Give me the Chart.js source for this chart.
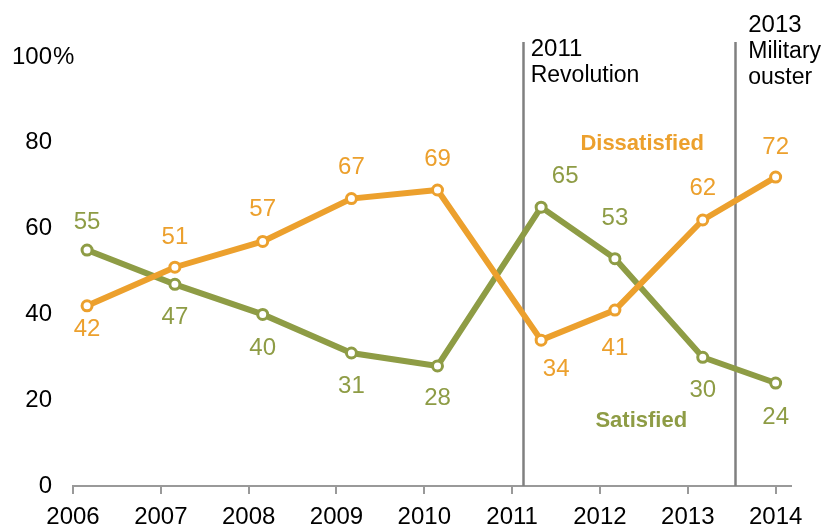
<!DOCTYPE html>
<html>
<head>
<meta charset="utf-8">
<script src="https://cdn.jsdelivr.net/npm/chart.js@4.4.0/dist/chart.umd.min.js"></script>
<style>
    html, body { margin: 0; padding: 0; background: #ffffff; }
    #satisfactionChart { display: block; }
</style>
</head>
<body>
<canvas id="satisfactionChart" width="830" height="527"></canvas>
<script>
// survey dates (fractional years) and the two series
var surveyDates = [2006.16, 2007.16, 2008.16, 2009.17, 2010.15, 2011.33, 2012.17, 2013.17, 2014.0];
var satisfied = [55, 47, 40, 31, 28, 65, 53, 30, 24];
var dissatisfied = [42, 51, 57, 67, 69, 34, 41, 62, 72];
var yearTicks = [2006, 2007, 2008, 2009, 2010, 2011, 2012, 2013, 2014];
var percentTicks = [0, 20, 40, 60, 80, 100];

// events marked with vertical lines
var eventDates = [2011.12, 2013.54];
var eventLabels = [['2011', 'Revolution'], ['2013', 'Military', 'ouster']];

// label nudges in pixels (layout only)
var satLabelDx = [0, 0, 0, 0, 0, 24, 0, 0, 0];
var satLabelDy = [-28, 33, 34, 33, 32, -31, -40, 33, 34];
var disLabelDx = [0, 0, 0, 0, 0, 15, 0, 0, 0];
var disLabelDy = [24, -30, -32, -31, -31, 29, 38, -32, -30];

var orange = '#eca02d';
var olive = '#8e9c45';
var numFont = '24px "Liberation Sans", Arial, sans-serif';
var wordFont = '23px "Liberation Sans", Arial, sans-serif';

function toPoints(values) {
    return values.map(function (v, i) {
        return {x: surveyDates[i], y: v};
    });
}

var eventLinesPlugin = {
    id: 'eventLines',
    beforeDatasetsDraw: function (chart) {
        var ctx = chart.ctx;
        var x = chart.scales.x;
        var y = chart.scales.y;
        ctx.save();
        ctx.strokeStyle = '#808080';
        ctx.lineWidth = 2.5;
        for (var i = 0; i < eventDates.length; i++) {
            var px = Math.round(x.getPixelForValue(eventDates[i])) + 0.5;
            ctx.beginPath();
            ctx.moveTo(px, y.getPixelForValue(103.5));
            ctx.lineTo(px, y.getPixelForValue(0));
            ctx.stroke();
        }
        ctx.restore();
    },
    afterDraw: function (chart) {
        var ctx = chart.ctx;
        var x = chart.scales.x;
        var y = chart.scales.y;
        var textDx = [8, 13];
        var firstBase = [56, 32];
        ctx.save();
        ctx.fillStyle = '#000000';
        ctx.textAlign = 'left';
        ctx.textBaseline = 'alphabetic';
        for (var i = 0; i < eventDates.length; i++) {
            var px = x.getPixelForValue(eventDates[i]) + textDx[i];
            for (var j = 0; j < eventLabels[i].length; j++) {
                ctx.font = /^\d+$/.test(eventLabels[i][j]) ? numFont : wordFont;
                ctx.fillText(eventLabels[i][j], px, firstBase[i] + j * 26);
            }
        }
        // percent sign hanging after the top tick
        ctx.font = numFont;
        ctx.textBaseline = 'middle';
        ctx.fillText('%', y.right - 20, y.getPixelForValue(100));
        ctx.restore();
    }
};

var valueLabelsPlugin = {
    id: 'valueLabels',
    afterDatasetsDraw: function (chart) {
        var ctx = chart.ctx;
        var x = chart.scales.x;
        var y = chart.scales.y;
        var sets = [
            {values: satisfied, color: olive, dx: satLabelDx, dy: satLabelDy},
            {values: dissatisfied, color: orange, dx: disLabelDx, dy: disLabelDy}
        ];
        ctx.save();
        ctx.font = numFont;
        ctx.textAlign = 'center';
        ctx.textBaseline = 'middle';
        sets.forEach(function (s) {
            ctx.fillStyle = s.color;
            for (var i = 0; i < s.values.length; i++) {
                var px = x.getPixelForValue(surveyDates[i]) + s.dx[i];
                var py = y.getPixelForValue(s.values[i]) + s.dy[i];
                ctx.fillText(String(s.values[i]), px, py);
            }
        });
        // series names
        ctx.font = 'bold 22px "Liberation Sans", Arial, sans-serif';
        ctx.textBaseline = 'alphabetic';
        ctx.fillStyle = orange;
        ctx.fillText('Dissatisfied', x.getPixelForValue(2012.48), y.getPixelForValue(78.3));
        ctx.fillStyle = olive;
        ctx.fillText('Satisfied', x.getPixelForValue(2012.47), y.getPixelForValue(13.8));
        ctx.restore();
    }
};

var lineChart = new Chart(document.getElementById('satisfactionChart'), {
    type: 'line',
    data: {
        datasets: [{
            label: 'Dissatisfied',
            data: toPoints(dissatisfied),
            borderColor: orange,
            borderWidth: 6,
            pointRadius: 5,
            pointBorderWidth: 3,
            pointBackgroundColor: '#ffffff',
            pointBorderColor: orange,
            tension: 0,
            order: 0
        }, {
            label: 'Satisfied',
            data: toPoints(satisfied),
            borderColor: olive,
            borderWidth: 6,
            pointRadius: 5,
            pointBorderWidth: 3,
            pointBackgroundColor: '#ffffff',
            pointBorderColor: olive,
            tension: 0,
            order: 1
        }]
    },
    options: {
        responsive: false,
        animation: false,
        devicePixelRatio: 1,
        layout: {padding: {top: 57, right: 39, left: 0, bottom: 0}},
        plugins: {
            legend: {display: false},
            tooltip: {enabled: false}
        },
        scales: {
            x: {
                type: 'linear',
                min: 2006,
                max: 2014.175,
                afterBuildTicks: function (scale) {
                    scale.ticks = yearTicks.map(function (v) { return {value: v}; });
                },
                afterFit: function (scale) { scale.height = 41; },
                ticks: {
                    color: '#000000',
                    font: {family: '"Liberation Sans", Arial, sans-serif', size: 24},
                    padding: 9,
                    maxRotation: 0,
                    autoSkip: false,
                    callback: function (v) { return String(v); }
                },
                grid: {drawOnChartArea: false, drawTicks: true, tickLength: 8, color: '#999999', lineWidth: 2},
                border: {display: true, color: '#999999', width: 2}
            },
            y: {
                min: 0,
                max: 100,
                afterBuildTicks: function (scale) {
                    scale.ticks = percentTicks.map(function (v) { return {value: v}; });
                },
                afterFit: function (scale) { scale.width = 73; },
                ticks: {
                    color: '#000000',
                    font: {family: '"Liberation Sans", Arial, sans-serif', size: 24},
                    padding: 21,
                    callback: function (v) { return String(v); }
                },
                grid: {display: false, drawTicks: false},
                border: {display: false}
            }
        }
    },
    plugins: [eventLinesPlugin, valueLabelsPlugin]
});
</script>
</body>
</html>
